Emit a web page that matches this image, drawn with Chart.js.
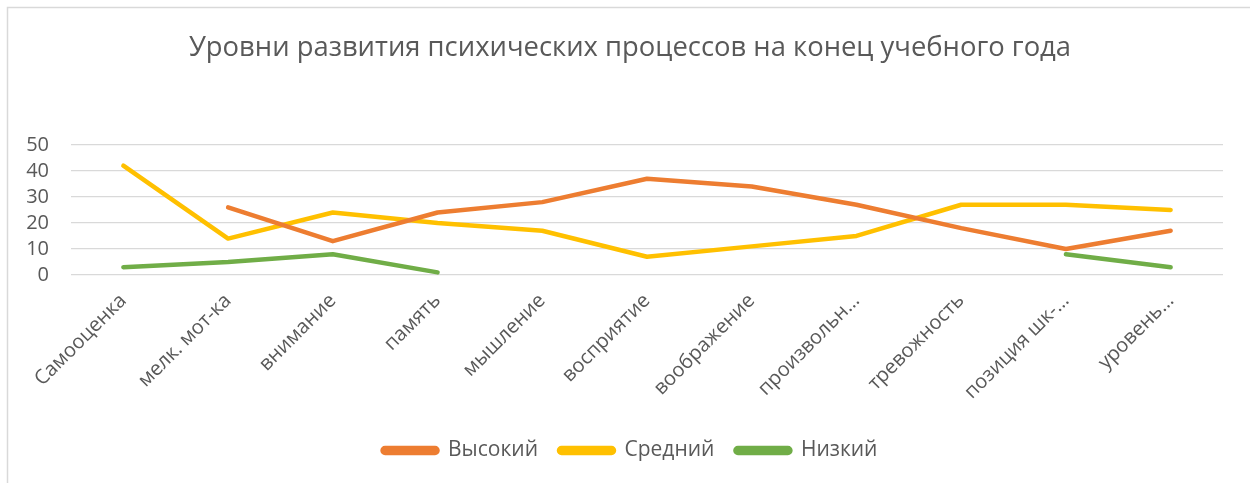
<!DOCTYPE html>
<html>
<head>
<meta charset="utf-8">
<script src="https://cdn.jsdelivr.net/npm/chart.js@4"></script>
<style>
html,body{margin:0;padding:0;background:#fff;}
#wrap{position:relative;width:1250px;height:483px;}
</style>
</head>
<body>
<div id="wrap"><canvas id="c" width="1250" height="483"></canvas></div>
<script>
const categories = ["Самооценка","мелк. мот-ка","внимание","память","мышление","восприятие","воображение","произвольн…","тревожность","позиция шк-…","уровень…"];
const highValues = [null,26,13,24,28,37,34,27,18,10,17];
const midValues = [42,14,24,20,17,7,11,15,27,27,25];
const lowValues = [3,5,8,1,null,null,null,null,null,8,3];
const yTicks = [0,10,20,30,40,50];
const seriesNames = ["Высокий","Средний","Низкий"];
const titleText = "Уровни развития психических процессов на конец учебного года";

const FONT = "'Open Sans', 'DejaVu Sans', sans-serif";
const GREY = "#595959";

const borderPlugin = {
  id: 'frame',
  beforeDraw(chart){
    const ctx = chart.ctx;
    ctx.save();
    ctx.fillStyle = '#fff';
    ctx.fillRect(0,0,chart.width,chart.height);
    ctx.strokeStyle = '#d9d9d9';
    ctx.lineWidth = 1.5;
    ctx.strokeRect(7.5,7.5,chart.width+20,chart.height+20);
    ctx.restore();
  }
};

function ds(label, data, color){
  return {label, data, borderColor: color, backgroundColor: color, borderWidth: 4.5,
    pointRadius: 0, pointHoverRadius: 0, tension: 0, spanGaps: false,
    borderCapStyle: 'round', borderJoinStyle: 'round', fill: false, yAxisID: 'y'};
}

new Chart(document.getElementById('c'), {
  type: 'line',
  data: {
    labels: categories,
    datasets: [
      ds(seriesNames[0], highValues, '#ED7D31'),
      ds(seriesNames[1], midValues, '#FFC000'),
      ds(seriesNames[2], lowValues, '#70AD47')
    ]
  },
  options: {
    responsive: false,
    animation: false,
    devicePixelRatio: 1,
    layout: {padding: {left: 10, right: 0, top: 0, bottom: 12}},
    plugins: {
      title: {display: true, text: titleText, color: GREY,
        font: {family: FONT, size: 27.4, weight: 'normal'}, padding: {top: 32, bottom: 80}},
      legend: {position: 'bottom',
        labels: {color: GREY, font: {family: FONT, size: 21}, boxWidth: 55, boxHeight: 5,
          padding: 21, useBorderRadius: true, borderRadius: 2.5}},
      tooltip: {enabled: false}
    },
    scales: {
      y: {min: 0, max: 50, position: 'left',
        afterBuildTicks(scale){ scale.ticks = yTicks.map(v => ({value: v})); },
        afterFit(scale){ scale.width = 61; },
        ticks: {color: GREY, font: {family: FONT, size: 20}, padding: 22, autoSkip: false},
        grid: {color: '#d9d9d9', lineWidth: 1.3, drawTicks: false},
        border: {display: false}
      },
      yR: {position: 'right', min: 0, max: 50,
        afterFit(scale){ scale.width = 27; },
        ticks: {display: false},
        grid: {display: false, drawTicks: false},
        border: {display: false}
      },
      x: {
        offset: true,
        afterFit(scale){ scale.height = 144; },
        ticks: {color: GREY, font: {family: FONT, size: 20}, maxRotation: 45, minRotation: 45, autoSkip: false, padding: 14},
        grid: {display: false, drawTicks: false, offset: true},
        border: {display: false}
      }
    }
  },
  plugins: [borderPlugin]
});
</script>
</body>
</html>
